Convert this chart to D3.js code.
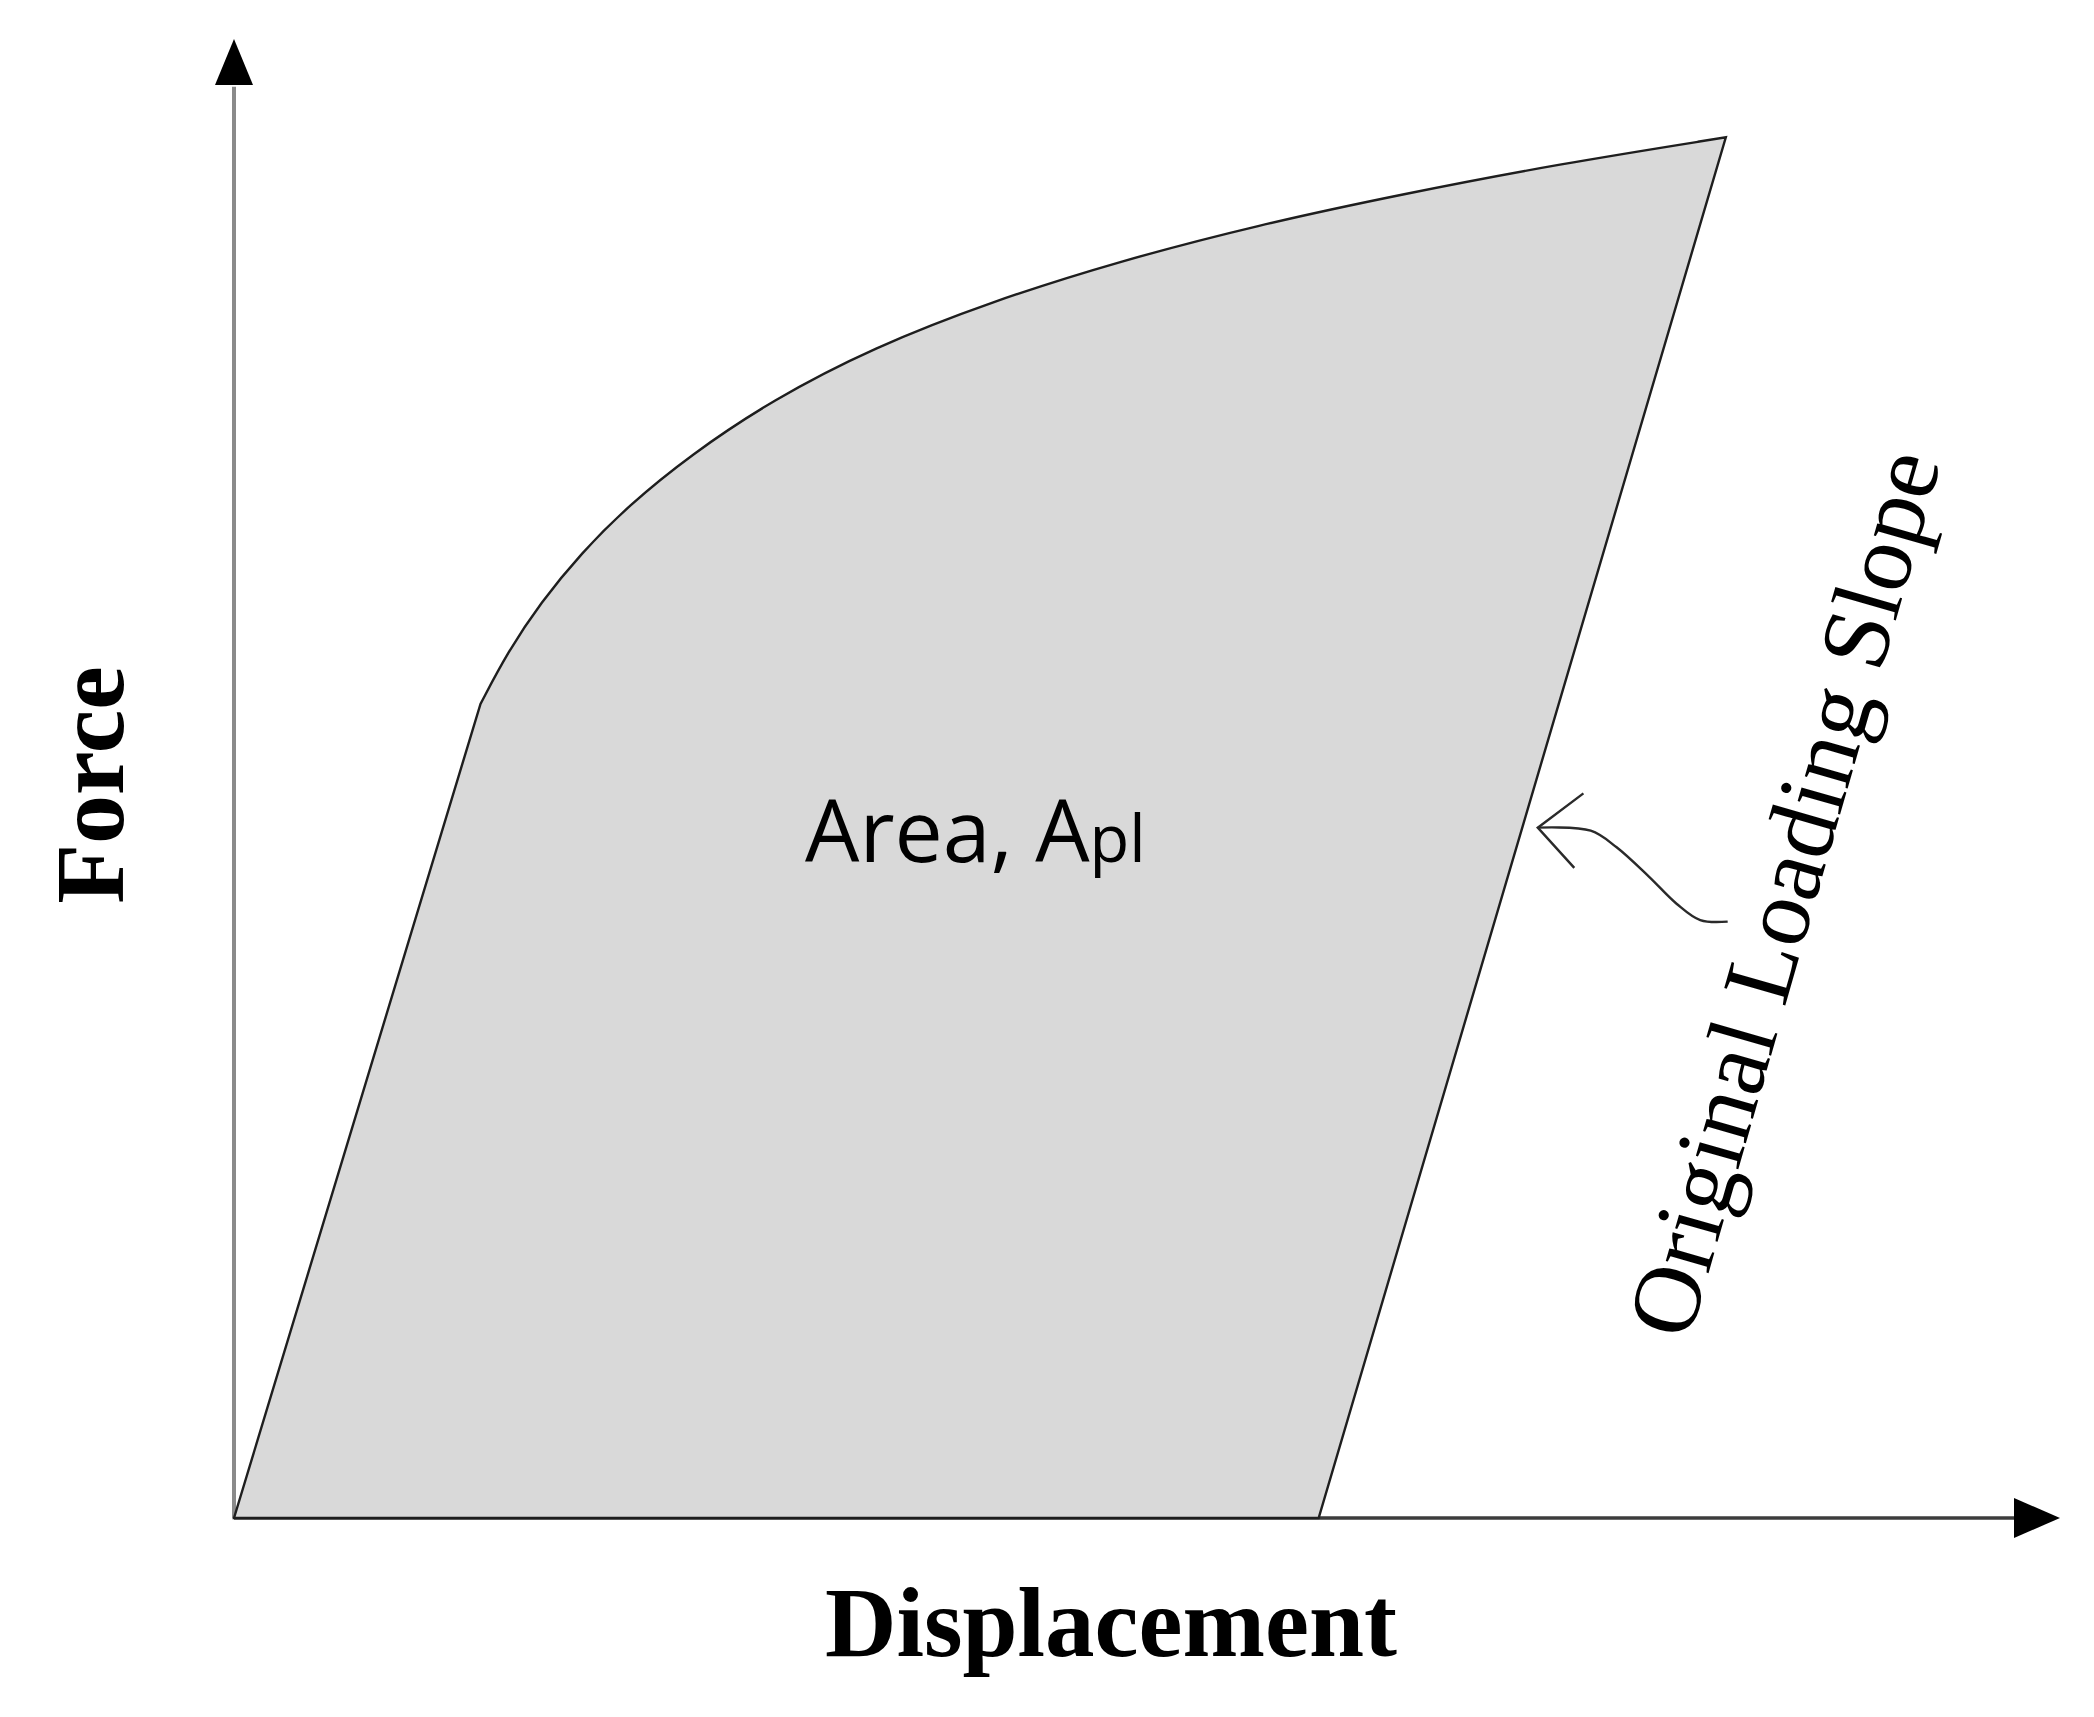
<!DOCTYPE html>
<html>
<head>
<meta charset="utf-8">
<script src="https://cdn.jsdelivr.net/npm/d3@7"></script>
<style>
body { margin: 0; background: #fff; }
</style>
</head>
<body>
<div id="chart"></div>
<script>
//Size of the page
var w = 2094;
var h = 1717;

//Force-displacement loop, both axes in % of the axis length
//elastic loading part (origin to yield point)
var loadDisp = [0, 13.5];
var loadForce = [0, 54.6];
//hardening curve (yield point to peak)
var hardenDisp = [13.5, 15.0, 16.8, 19.0, 21.6, 25.0, 29.5, 35.0, 41.5, 48.5, 56.0, 64.0, 72.5, 81.7];
var hardenForce = [54.6, 58.1, 61.4, 64.7, 67.9, 71.3, 75.0, 78.5, 81.6, 84.3, 86.7, 88.8, 90.8, 92.6];
//unloading along the original loading slope
var unloadDisp = [81.7, 59.4];
var unloadForce = [92.6, 0];

//wavy pointer for the "Original Loading Slope" label
var pointerDisp = [71.4, 74.3, 75.7, 77.5, 79.0, 80.3, 81.8];
var pointerForce = [46.3, 46.1, 45.0, 43.0, 41.2, 40.1, 40.0];
//arrow head barbs of the pointer
var barbDisp = [73.9, 71.4, 73.4];
var barbForce = [48.6, 46.3, 43.6];

//Text labels
var xLabel = "Displacement";
var yLabel = "Force";
var areaLabel = "Area, A";
var areaSub = "pl";
var slopeLabel = "Original Loading Slope";

//Scales (0..100 goes from the origin to the end of the axes)
var xscale = d3.scaleLinear()
                .domain([0, 100])
                .range([234, 2060]);

var yscale = d3.scaleLinear()
                .domain([0, 100])
                .range([1518, 27]);

var svg = d3.select("#chart")
            .append("svg")
            .attr("width", w)
            .attr("height", h)
            .style("display", "block");

svg.append("rect")
    .attr("width", w)
    .attr("height", h)
    .attr("fill", "#fff");

//Axes lines
svg.append("line")
    .attr("x1", xscale(0))
    .attr("y1", yscale(0))
    .attr("x2", xscale(0))
    .attr("y2", yscale(96))
    .attr("stroke", "#8a8a8a")
    .attr("stroke-width", 4);

svg.append("line")
    .attr("x1", xscale(0))
    .attr("y1", yscale(0))
    .attr("x2", xscale(98))
    .attr("y2", yscale(0))
    .attr("stroke", "#3c3c3c")
    .attr("stroke-width", 3.5);

//Arrow heads at the end of each axis
var tipY = [xscale(0), yscale(99.2)];
svg.append("path")
    .attr("d", "M" + tipY[0] + "," + tipY[1] +
               "L" + (tipY[0] + 19) + "," + (tipY[1] + 46) +
               "L" + (tipY[0] - 19) + "," + (tipY[1] + 46) + "Z")
    .attr("fill", "#000");

var tipX = [xscale(100), yscale(0)];
svg.append("path")
    .attr("d", "M" + tipX[0] + "," + tipX[1] +
               "L" + (tipX[0] - 46) + "," + (tipX[1] - 20) +
               "L" + (tipX[0] - 46) + "," + (tipX[1] + 20) + "Z")
    .attr("fill", "#000");

//Build the loop shape, smooth b-spline through the hardening points
var hardenPts = hardenDisp.map((d, i) => [d, hardenForce[i]]);

var curveLine = d3.line()
                .x(d => xscale(d[0]))
                .y(d => yscale(d[1]))
                .curve(d3.curveBasis);

var loopPath = "M" + xscale(loadDisp[0]) + "," + yscale(loadForce[0]) +
               "L" + curveLine(hardenPts).slice(1) +
               "L" + xscale(unloadDisp[1]) + "," + yscale(unloadForce[1]) + "Z";

svg.append("path")
    .attr("d", loopPath)
    .attr("fill", "#d9d9d9")
    .attr("stroke", "#1e1e1e")
    .attr("stroke-width", 2.4)
    .attr("stroke-linejoin", "miter");

//Pointer towards the unloading line
var pointerPts = pointerDisp.map((d, i) => [d, pointerForce[i]]);
var pointerLine = d3.line()
                .x(d => xscale(d[0]))
                .y(d => yscale(d[1]))
                .curve(d3.curveCatmullRom);
svg.append("path")
    .attr("d", pointerLine(pointerPts))
    .attr("fill", "none")
    .attr("stroke", "#2a2a2a")
    .attr("stroke-width", 2.4);

var barbLine = d3.line()
                .x(d => xscale(d[0]))
                .y(d => yscale(d[1]));
svg.append("path")
    .attr("d", barbLine(barbDisp.map((d, i) => [d, barbForce[i]])))
    .attr("fill", "none")
    .attr("stroke", "#2a2a2a")
    .attr("stroke-width", 2.4);

//Axis titles
svg.append("text")
    .attr("x", 1111)
    .attr("y", 1656)
    .attr("text-anchor", "middle")
    .style("font-family", "'Liberation Serif', 'Times New Roman', serif")
    .style("font-weight", "bold")
    .style("font-size", "99px")
    .attr("fill", "#000")
    .text(xLabel);

svg.append("text")
    .attr("transform", "translate(123,785) rotate(-90)")
    .attr("text-anchor", "middle")
    .style("font-family", "'Liberation Serif', 'Times New Roman', serif")
    .style("font-weight", "bold")
    .style("font-size", "98px")
    .attr("fill", "#000")
    .text(yLabel);

//Area label inside the loop
var areaText = svg.append("text")
    .attr("x", 805)
    .attr("y", 862)
    .style("font-family", "'Open Sans', 'Noto Sans', sans-serif")
    .style("font-size", "86px")
    .attr("fill", "#000");
areaText.append("tspan").text(areaLabel);
areaText.append("tspan")
    .style("font-size", "65px")
    .text(areaSub);

//Slope label
svg.append("text")
    .attr("transform", "translate(1815,902) rotate(-74)")
    .attr("text-anchor", "middle")
    .style("font-family", "'Liberation Serif', 'Times New Roman', serif")
    .style("font-style", "normal")
    .style("font-size", "97px")
    .attr("fill", "#000")
    .text(slopeLabel);
</script>
</body>
</html>
